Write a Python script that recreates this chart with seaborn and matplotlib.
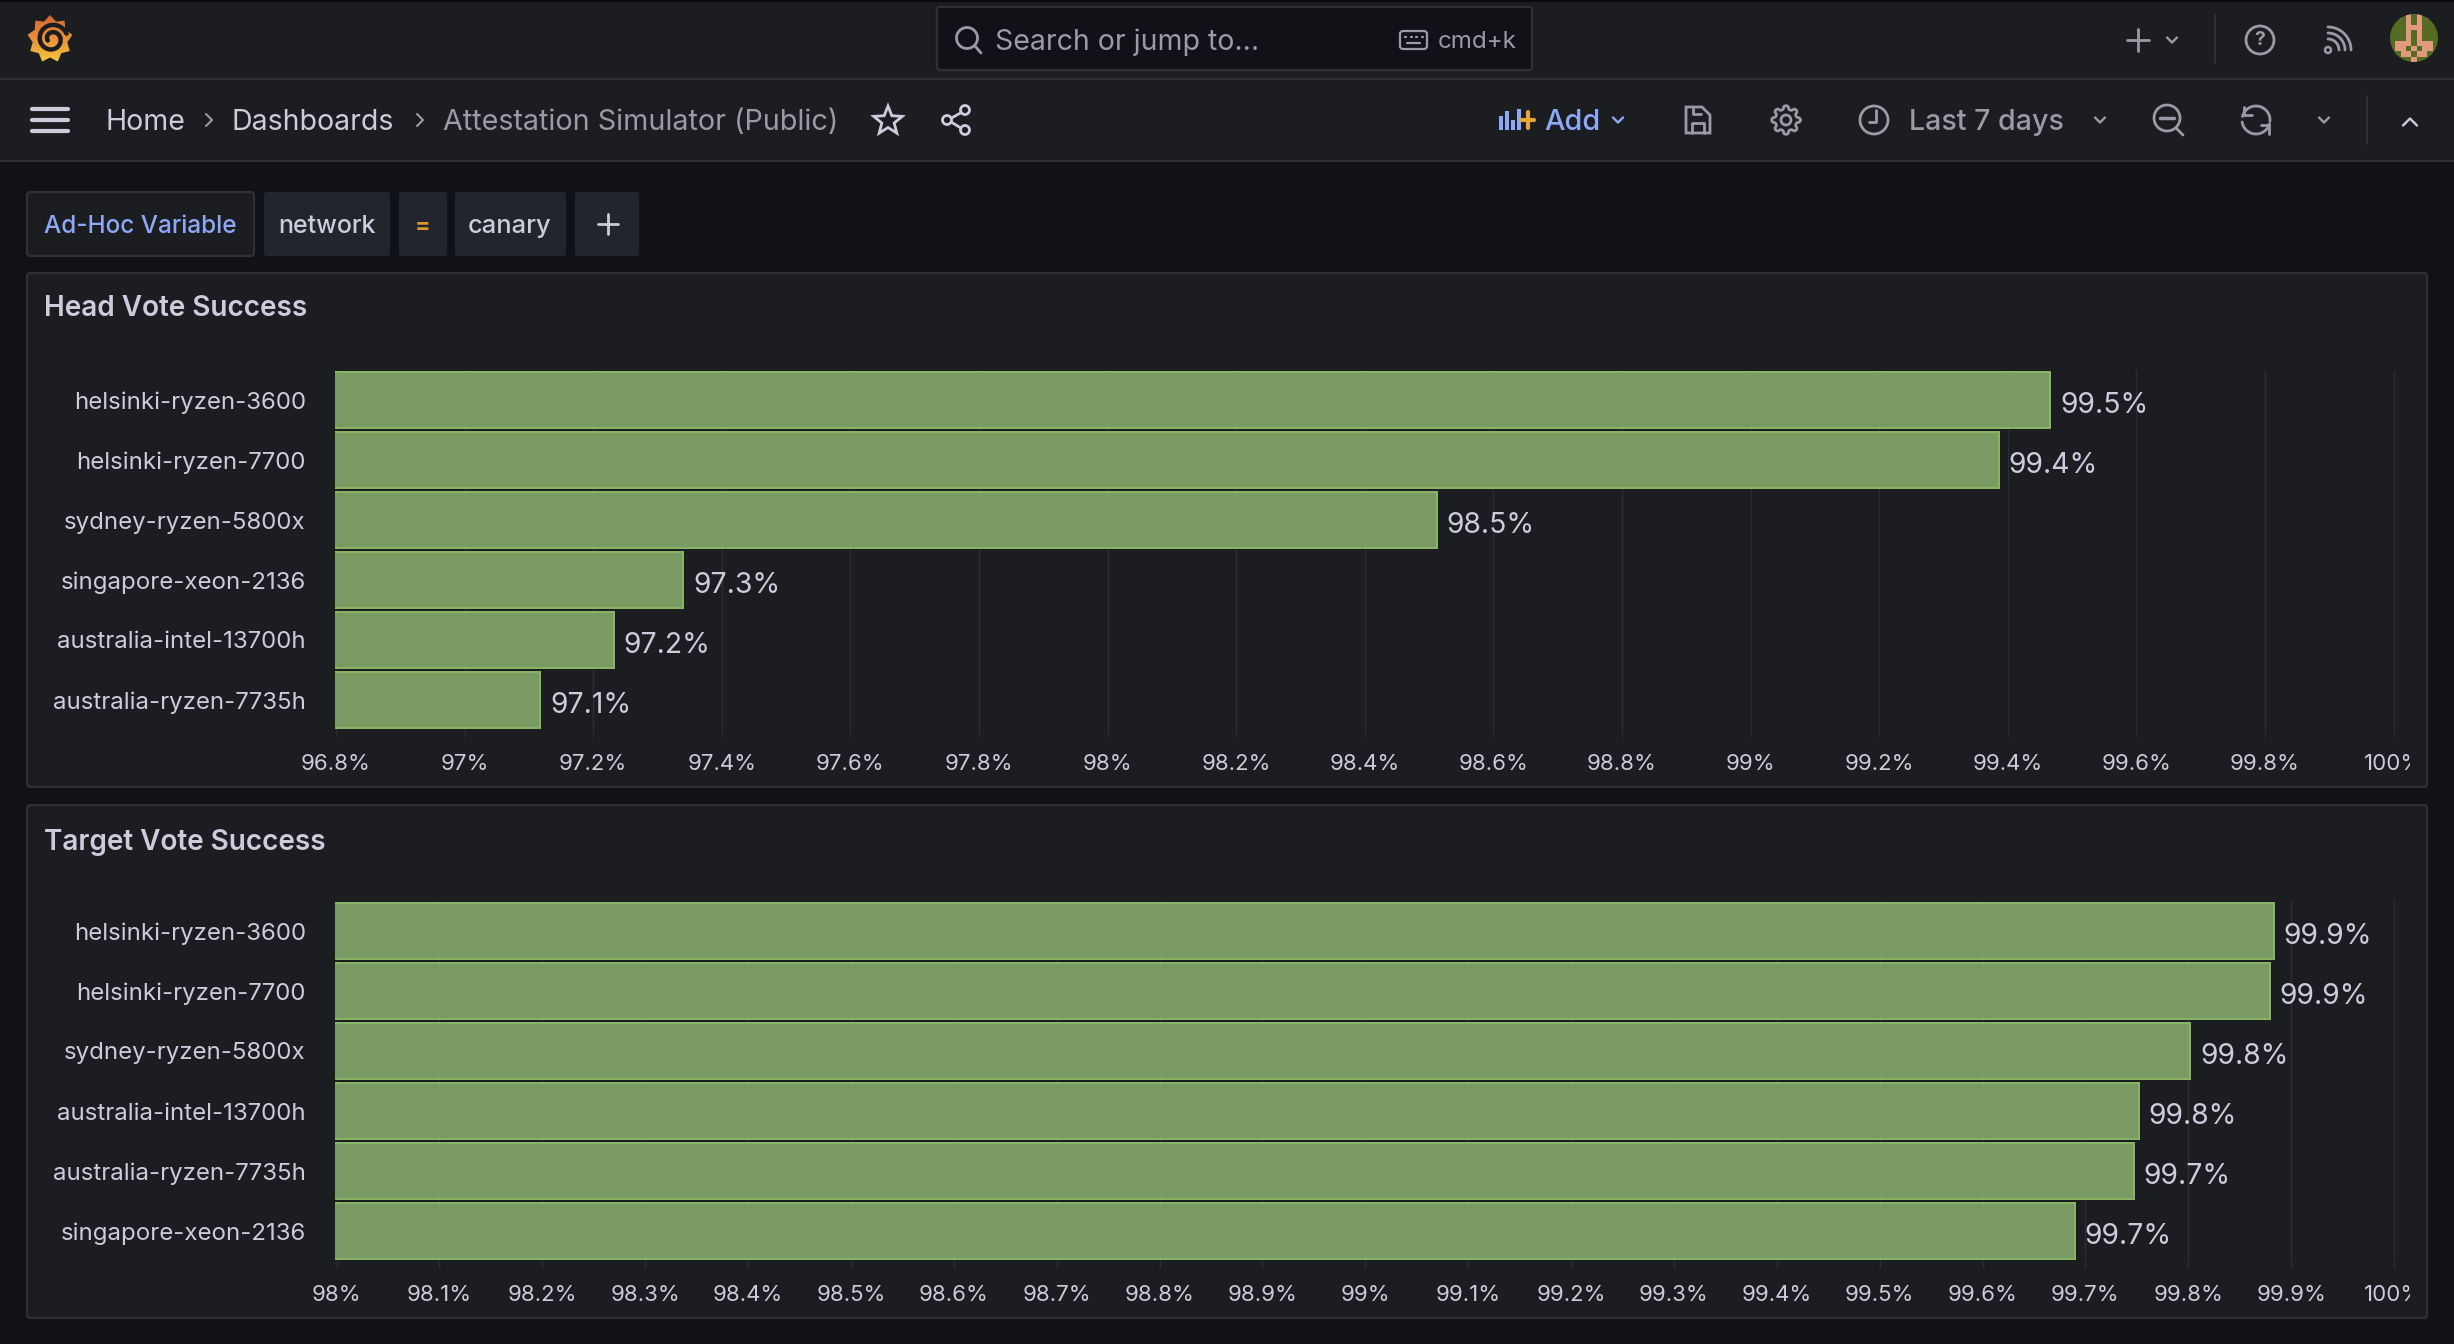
import numpy as np
import matplotlib
matplotlib.use('Agg')
import matplotlib.pyplot as plt
import seaborn as sns
from matplotlib.patches import Rectangle, FancyBboxPatch, Circle, Polygon
from matplotlib.transforms import Bbox

# Data
head_names = ['helsinki-ryzen-3600', 'helsinki-ryzen-7700', 'sydney-ryzen-5800x',
              'singapore-xeon-2136', 'australia-intel-13700h', 'australia-ryzen-7735h']
head_values = [99.466, 99.386, 98.512, 97.34, 97.232, 97.118]
head_labels = ['99.5%', '99.4%', '98.5%', '97.3%', '97.2%', '97.1%']
head_ticks = [96.8, 97, 97.2, 97.4, 97.6, 97.8, 98, 98.2, 98.4, 98.6, 98.8,
              99, 99.2, 99.4, 99.6, 99.8, 100]
head_ticklabels = ['96.8%', '97%', '97.2%', '97.4%', '97.6%', '97.8%', '98%', '98.2%', '98.4%',
                   '98.6%', '98.8%', '99%', '99.2%', '99.4%', '99.6%', '99.8%', '100%']

target_names = ['helsinki-ryzen-3600', 'helsinki-ryzen-7700', 'sydney-ryzen-5800x',
                'australia-intel-13700h', 'australia-ryzen-7735h', 'singapore-xeon-2136']
target_values = [99.883, 99.879, 99.802, 99.752, 99.747, 99.69]
target_labels = ['99.9%', '99.9%', '99.8%', '99.8%', '99.7%', '99.7%']
target_ticks = [98, 98.1, 98.2, 98.3, 98.4, 98.5, 98.6, 98.7, 98.8, 98.9, 99,
                99.1, 99.2, 99.3, 99.4, 99.5, 99.6, 99.7, 99.8, 99.9, 100]
target_ticklabels = ['98%', '98.1%', '98.2%', '98.3%', '98.4%', '98.5%', '98.6%', '98.7%',
                     '98.8%', '98.9%', '99%', '99.1%', '99.2%', '99.3%', '99.4%', '99.5%',
                     '99.6%', '99.7%', '99.8%', '99.9%', '100%']

W, H = 2454, 1344
BG = '#111217'
PANEL = '#1b1d21'
BORDER = '#2e3035'
TEXT = '#ccccdc'
DIM = '#9a9ba6'
BLUE = '#8ea8f8'

sns.set_theme(style='dark')
plt.rcParams['font.family'] = ['Inter', 'DejaVu Sans']

fig = plt.figure(figsize=(W / 100, H / 100), dpi=100, facecolor=BG)

# Page chrome in pixel coordinates
ui = fig.add_axes([0, 0, 1, 1])
ui.set_xlim(0, W)
ui.set_ylim(H, 0)
ui.axis('off')
ui.set_autoscale_on(False)


def box(x0, y0, x1, y1, fc, ec='none', lw=0, r=3):
    ui.add_patch(FancyBboxPatch((x0 + r, y0 + r), x1 - x0 - 2 * r, y1 - y0 - 2 * r,
                                boxstyle=f'round,pad={r},rounding_size={r}', fc=fc, ec=ec, lw=lw))


def line(xs, ys, color=DIM, lw=2.0, **kw):
    ui.plot(xs, ys, color=color, lw=lw, solid_capstyle='round', solid_joinstyle='round', **kw)


def ring(x, y, r, color=DIM, lw=2.0):
    ui.add_patch(Circle((x, y), r, fc='none', ec=color, lw=lw))


def arc(x, y, r, start, end, color=DIM, lw=2.0):
    th = np.radians(np.linspace(start, end, 40))
    line(x + r * np.cos(th), y - r * np.sin(th), color, lw)


def chevron(x, y, color=DIM, up=False, s=5):
    d = -s if up else s
    line([x - s, x, x + s], [y - d / 2, y + d / 2, y - d / 2], color=color, lw=1.7)


def label(x, y, s, size=15, color=TEXT, ha='left', weight='normal'):
    ui.text(x, y, s, fontsize=size, color=color, ha=ha, va='center_baseline', fontweight=weight)


# bars
ui.add_patch(Rectangle((0, 0), W, 78, fc=PANEL, ec='none'))
ui.add_patch(Rectangle((0, 0), W, 2, fc='#08090b', ec='none'))
ui.add_patch(Rectangle((0, 78), W, 2, fc=BORDER, ec='none'))
ui.add_patch(Rectangle((0, 80), W, 80, fc=PANEL, ec='none'))
ui.add_patch(Rectangle((0, 160), W, 2, fc=BORDER, ec='none'))

# logo
t = np.linspace(0, 2 * np.pi, 19)[:-1]
rad = np.where(np.arange(18) % 2 == 0, 24, 18.5)
gear = Polygon(np.c_[50 + rad * np.sin(t) * 0.95, 39 - rad * np.cos(t)], closed=True, fc='none', ec='none')
ui.add_patch(gear)
grad = np.linspace(0, 1, 64)[:, None]
cmap = matplotlib.colors.LinearSegmentedColormap.from_list('logo', ['#d4672f', '#e9913a', '#f6cb3c'])
im = ui.imshow(grad, extent=(24, 76, 64, 14), cmap=cmap, aspect='auto', zorder=2)
im.set_clip_path(gear)
ui.set_xlim(0, W)
ui.set_ylim(H, 0)
th = np.radians(np.linspace(20, 560, 80))
spiral_r = np.linspace(15.5, 4.5, 80)
line(52 + spiral_r * np.cos(th), 39 - spiral_r * np.sin(th), PANEL, 3.2, zorder=3)

# search box
box(937, 7, 1532, 70, BG, BORDER, 1.6)
ring(967, 38, 10.5, DIM)
line([975, 981], [46, 53])
label(995, 39, 'Search or jump to...', 20.5, DIM)
box(1400, 31, 1427, 49, 'none', DIM, 1.6, r=3)
for k in range(4):
    line([1405 + k * 5.5, 1406 + k * 5.5], [37, 37], lw=1.6)
line([1407, 1420], [43, 43], lw=1.6)
label(1438, 39, 'cmd+k', 17.4, DIM)

# top right icons
line([2138, 2138], [29, 51])
line([2127, 2149], [40, 40])
chevron(2172, 40)
ui.plot([2215, 2215], [15, 63], color=BORDER, lw=1.5)
ring(2260, 40, 14)
ui.text(2260, 40, '?', fontsize=14, color=DIM, ha='center', va='center', fontweight='bold')
ui.add_patch(Circle((2328, 50), 3, fc='none', ec=DIM, lw=1.8))
for r_ in (11, 17, 23):
    arc(2328, 50, r_, 90, 0)

# avatar
pix = np.array([[0, 1, 0, 1, 0, 1, 0, 1, 0],
                [0, 0, 0, 1, 0, 1, 0, 0, 0],
                [0, 0, 0, 1, 1, 1, 0, 0, 0],
                [0, 0, 0, 1, 0, 1, 0, 0, 0],
                [0, 0, 0, 1, 0, 1, 0, 0, 0],
                [0, 1, 1, 1, 0, 1, 1, 1, 0],
                [0, 1, 1, 0, 1, 0, 1, 1, 0],
                [0, 0, 1, 1, 0, 1, 1, 0, 0],
                [0, 0, 0, 0, 1, 0, 0, 0, 0]])
av_cmap = matplotlib.colors.ListedColormap(['#556b22', '#e19a7e'])
clip = Circle((2414, 38), 24, transform=ui.transData)
av = ui.imshow(pix, extent=(2390, 2438, 62, 14), cmap=av_cmap, aspect='auto', interpolation='nearest', zorder=2)
av.set_clip_path(clip)
ui.set_xlim(0, W)
ui.set_ylim(H, 0)

# breadcrumb row
for yy in (109, 120, 131):
    line([32, 68], [yy, yy], color=TEXT, lw=3)
label(106, 120, 'Home', 20.5, TEXT)
label(232, 120, 'Dashboards', 20.5, TEXT)
label(443, 120, 'Attestation Simulator (Public)', 20.7, DIM)
for xx in (209, 420):
    line([xx - 3, xx + 3, xx - 3], [114, 120, 126], color=DIM, lw=1.5)

a = np.linspace(0, 2 * np.pi, 11)[:-1]
r_star = np.where(np.arange(10) % 2 == 0, 15, 6.5)
ui.add_patch(Polygon(np.c_[888 + r_star * np.sin(a), 121 - r_star * np.cos(a)], closed=True,
                     fc='none', ec=TEXT, lw=2.0))
line([948, 964], [120, 111], TEXT)
line([948, 964], [120, 130], TEXT)
for cx, cy in ((947, 120), (965, 110), (965, 130)):
    ui.add_patch(Circle((cx, cy), 4.5, fc=PANEL, ec=TEXT, lw=2.0, zorder=3))

# add panel icon
for xx, top in ((1499, 116), (1505, 111), (1511, 120), (1517, 109)):
    ui.add_patch(Rectangle((xx, top), 4, 130 - top, fc=BLUE, ec='none'))
line([1528, 1528], [112, 128], '#e8a33a', 3)
line([1521, 1534], [120, 120], '#e8a33a', 3)
label(1544, 120, 'Add', 20.8, BLUE, weight='medium')
chevron(1618, 120, BLUE)

# save
ui.add_patch(Polygon([(1686, 107), (1702, 107), (1710, 115), (1710, 133), (1686, 133)], closed=True,
                     fc='none', ec=DIM, lw=2.0))
line([1692, 1692, 1704, 1704], [133, 123, 123, 133])
line([1693, 1693, 1701], [108, 114, 114])

# settings gear
ring(1786, 120, 5)
th = np.linspace(0, 2 * np.pi, 160)
gear_r = 12.5 + 1.8 * np.sign(np.cos(8 * th)) * np.abs(np.cos(8 * th)) ** 0.5
line(1786 + gear_r * np.cos(th), 120 + gear_r * np.sin(th))

# time picker
ring(1874, 120, 14)
line([1876, 1876, 1869], [110, 122, 122])
label(1909, 120, 'Last 7 days', 20.6, DIM, weight='medium')
chevron(2100, 120)

# zoom out
ring(2167, 118, 13)
line([2160, 2174], [118, 118], lw=2.5)
line([2176, 2183], [128, 135])

# refresh
arc(2256, 120, 14, 165, -5)
arc(2256, 120, 14, -15, -172)
line([2244, 2244, 2252], [107, 115, 115])
line([2269, 2269, 2261], [134, 125, 125])
chevron(2324, 120)
ui.plot([2367, 2367], [96, 144], color=BORDER, lw=1.5)
chevron(2410, 122, TEXT, up=True, s=7)

# ad-hoc filter row
box(27, 192, 254, 256, PANEL, BORDER, 1.6)
label(140, 224, 'Ad-Hoc Variable', 17.5, BLUE, ha='center', weight='medium')
box(264, 192, 390, 256, '#22252b')
label(327, 224, 'network', 18, TEXT, ha='center', weight='medium')
box(399, 192, 447, 256, '#22252b')
label(423, 224, '=', 16.5, '#e0962c', ha='center', weight='bold')
box(455, 192, 566, 256, '#22252b')
label(510, 224, 'canary', 18.3, TEXT, ha='center', weight='medium')
box(575, 192, 639, 256, '#22252b')
line([608, 608], [214, 234], TEXT)
line([598, 618], [224, 224], TEXT)

# panel frames
box(27, 273, 2427, 787, PANEL, BORDER, 1.6)
box(27, 805, 2427, 1318, PANEL, BORDER, 1.6)
label(44, 306, 'Head Vote Success', 20.1, TEXT, weight='semibold')
label(44, 839, 'Target Vote Success', 20.1, TEXT, weight='semibold')


def bar_panel(names, values, labels, ticks, ticklabels, top, xmin, px_per_pct, x_origin):
    left, right, bottom = 335, 2410, top + 360
    ax = fig.add_axes([left / W, 1 - bottom / H, (right - left) / W, 360 / H])
    ax.patch.set_alpha(0)
    sns.barplot(x=values, y=names, ax=ax, orient='h', color='#84a96b', saturation=1,
                width=0.9333, edgecolor='#86b464', linewidth=1.44)
    for bar in ax.patches:
        bar.set_facecolor((132 / 255, 169 / 255, 107 / 255, 0.9))
    for ann in ax.bar_label(ax.containers[0], labels=labels, padding=7, fontsize=20.4, color=TEXT):
        ann.xyann = (7, -4.3)
    ax.set_xlim(xmin + (left - x_origin) / px_per_pct, xmin + (right - x_origin) / px_per_pct)
    ax.set_ylim(5.5, -0.5)
    ax.set_xticks(ticks)
    ax.set_xticklabels(ticklabels)
    ax.set_xlabel('')
    ax.set_ylabel('')
    ax.set_axisbelow(True)
    ax.grid(axis='x', color='#2c2e33', lw=1.0)
    ax.grid(axis='y', visible=False)
    sns.despine(ax=ax, left=True, bottom=True)
    ax.tick_params(axis='x', length=5, width=1.0, color='#2c2e33', labelcolor=TEXT, labelsize=16,
                   pad=12.3, bottom=True)
    ax.tick_params(axis='y', length=0, labelcolor=TEXT, labelsize=17.3, pad=21)
    for tl in ax.get_yticklabels():
        tl.set_va('center_baseline')
    # last label gets cut off at the plot edge, same as the panel
    for tl in ax.get_xticklabels():
        tl.set_clip_box(Bbox([[0, 0], [right, H]]))
        tl.set_clip_on(True)
    return ax


bar_panel(head_names, head_values, head_labels, head_ticks, head_ticklabels, 370, 96.8, 643.0, 336.0)
bar_panel(target_names, target_values, target_labels, target_ticks, target_ticklabels, 901, 98.0, 1028.7, 336.6)

fig.savefig('out.png', dpi=100, facecolor=BG)
